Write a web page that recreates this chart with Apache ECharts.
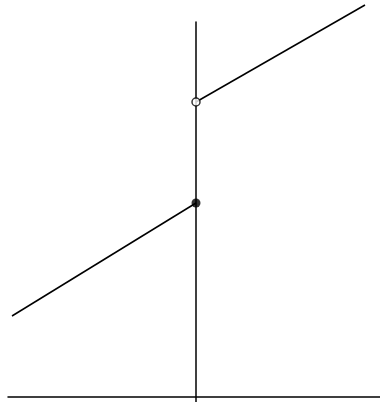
<!DOCTYPE html>
<html>
<head>
<meta charset="utf-8">
<script src="https://cdn.jsdelivr.net/npm/echarts@6/dist/echarts.min.js"></script>
<style>
  html, body { margin: 0; padding: 0; background: #fff; }
  #chart { width: 380px; height: 402px; }
</style>
</head>
<body>
<div id="chart"></div>
<script>
// 左段：x < 0 时的直线，终点为实心点
const leftSegment = [[-18.4, 8.1], [0, 19.4]]
// 右段：x > 0 时的直线，起点为空心点
const rightSegment = [[0, 29.5], [16.9, 39.2]]
// 端点
const closedPoint = [[0, 19.4]]
const openPoint = [[0, 29.5]]

const chart = echarts.init(document.getElementById('chart'))

const option = {
    animation: false,
    grid: { left: 8, right: 0, top: 22, bottom: 0 },
    xAxis: {
        type: 'value',
        min: -18.8,
        max: 18.4,
        axisLine: { onZero: true, lineStyle: { color: '#000', width: 1.5 } },
        axisTick: { show: false },
        axisLabel: { show: false },
        splitLine: { show: false }
    },
    yAxis: {
        type: 'value',
        min: -0.5,
        max: 37.5,
        axisLine: { onZero: true, lineStyle: { color: '#000', width: 1.5 } },
        axisTick: { show: false },
        axisLabel: { show: false },
        splitLine: { show: false }
    },
    series: [
        {
            type: 'line',
            data: leftSegment,
            clip: false,
            showSymbol: false,
            lineStyle: { color: '#000', width: 1.5 }
        },
        {
            type: 'line',
            data: rightSegment,
            clip: false,
            showSymbol: false,
            lineStyle: { color: '#000', width: 1.5 }
        },
        {
            type: 'scatter',
            data: closedPoint,
            symbolSize: 9,
            itemStyle: { color: '#000' },
            z: 5
        },
        {
            type: 'scatter',
            data: openPoint,
            symbolSize: 8,
            itemStyle: { color: '#fff', borderColor: '#000', borderWidth: 1.5 },
            z: 5
        }
    ]
}

chart.setOption(option)
</script>
</body>
</html>
